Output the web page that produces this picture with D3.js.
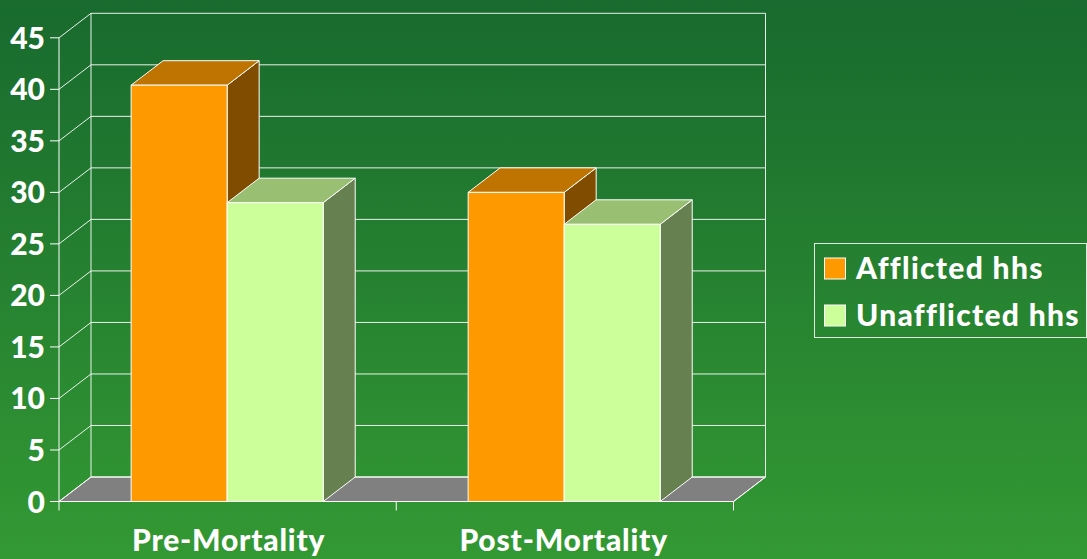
<!DOCTYPE html>
<html><head><meta charset="utf-8">
<script src="https://cdnjs.cloudflare.com/ajax/libs/d3/7.8.5/d3.min.js"></script>
<style>html,body{margin:0;padding:0;background:#2c8c33}svg{display:block}
text{font-family:Lato,"Open Sans",sans-serif;font-weight:900;fill:#fff}</style></head>
<body><div id="c"></div>
<script>
const categories=["Pre-Mortality","Post-Mortality"];
const seriesNames=["Afflicted hhs","Unafflicted hhs"];
const afflicted=[40.4,30];
const unafflicted=[29,26.9];
const yTicks=[0,5,10,15,20,25,30,35,40,45];
const frontColors=["#ff9900","#ccff99"];
const topColors=["#bf7300","#99bf73"];
const sideColors=["#804d00","#668050"];

const W=1087,H=559,dx=32,dy=-24.5;
const svg=d3.select("#c").append("svg").attr("width",W).attr("height",H);
const defs=svg.append("defs");
const g=defs.append("linearGradient").attr("id","bg").attr("x1",0).attr("y1",0).attr("x2",0).attr("y2",1);
g.append("stop").attr("offset",0).attr("stop-color","#186a2e");
g.append("stop").attr("offset",1).attr("stop-color","#339933");
svg.append("rect").attr("width",W).attr("height",H).attr("fill","url(#bg)");

const y=d3.scaleLinear().domain([0,45]).range([501.5,37.8]);
const x0=d3.scaleBand().domain(categories).range([59,733.5]).paddingInner(0.43).paddingOuter(0.2157).align(0.496);
const x1=d3.scaleBand().domain(seriesNames).range([0,x0.bandwidth()]);
const line=d3.line();
const poly=p=>line(p)+"Z";

const L=x0.range()[0],R=x0.range()[1];
svg.append("path").attr("d",poly([[L,y(0)],[L+dx,y(0)+dy],[R+dx,y(0)+dy],[R,y(0)]]))
  .attr("fill","#808080").attr("stroke","#fff").attr("stroke-width",1);
const grid=svg.append("g").attr("stroke","#fff").attr("stroke-width",1).attr("fill","none").attr("stroke-opacity",.9);
yTicks.forEach(t=>{
  grid.append("path").attr("d",line([[L,y(t)],[L+dx,y(t)+dy],[R+dx,y(t)+dy]]));
});
grid.append("path").attr("d",line([[L+dx,y(45)+dy],[L+dx,y(0)+dy]]));
grid.append("path").attr("d",line([[R+dx,y(45)+dy],[R+dx,y(0)+dy],[R,y(0)]]));
const ax=svg.append("g").attr("stroke","#fff").attr("stroke-width",1).attr("fill","none");
ax.append("path").attr("d",line([[L,y(45)],[L,y(0)],[R,y(0)]]));
yTicks.forEach(t=>ax.append("path").attr("d",line([[L-9,y(t)],[L,y(t)]])));
[L,L+(R-L)/2,R].forEach(v=>ax.append("path").attr("d",line([[v,y(0)],[v,y(0)+9]])));
svg.append("g").selectAll("text").data(yTicks).join("text")
  .attr("x",45).attr("y",d=>y(d)+11).attr("text-anchor","end").attr("font-size",30).text(d=>d);
svg.append("g").selectAll("text").data(categories).join("text")
  .attr("x",(d,i)=>x0(d)+x0.bandwidth()/2+(i?-0.5:1.5)).attr("y",551).attr("text-anchor","middle").attr("font-size",30).attr("letter-spacing",.8).text(d=>d);
const series=[afflicted,unafflicted];
const bars=svg.append("g").attr("stroke","#fff").attr("stroke-width",1).attr("stroke-linejoin","round");
categories.forEach((c,i)=>{
  seriesNames.forEach((s,j)=>{
    const v=series[j][i],a=x0(c)+x1(s),b=a+x1.bandwidth(),t=y(v),z=y(0);
    bars.append("path").attr("d",poly([[b,t],[b+dx,t+dy],[b+dx,z+dy],[b,z]])).attr("fill",sideColors[j]);
    bars.append("path").attr("d",poly([[a,t],[a+dx,t+dy],[b+dx,t+dy],[b,t]])).attr("fill",topColors[j]);
    bars.append("rect").attr("x",a).attr("y",t).attr("width",b-a).attr("height",z-t).attr("fill",frontColors[j]);
  });
});
const lg=svg.append("g");
lg.append("rect").attr("x",814.5).attr("y",243.5).attr("width",272).attr("height",94).attr("fill","none").attr("stroke","#fff").attr("stroke-opacity",.85);
const ly=d3.scalePoint().domain(seriesNames).range([269,316]);
seriesNames.forEach((s,j)=>{
  lg.append("rect").attr("x",824.5).attr("y",ly(s)-11).attr("width",21).attr("height",21).attr("fill",frontColors[j]).attr("stroke","#fff");
  lg.append("text").attr("x",856).attr("y",ly(s)+10).attr("font-size",30).attr("letter-spacing",1.3).text(s);
});
</script></body></html>
